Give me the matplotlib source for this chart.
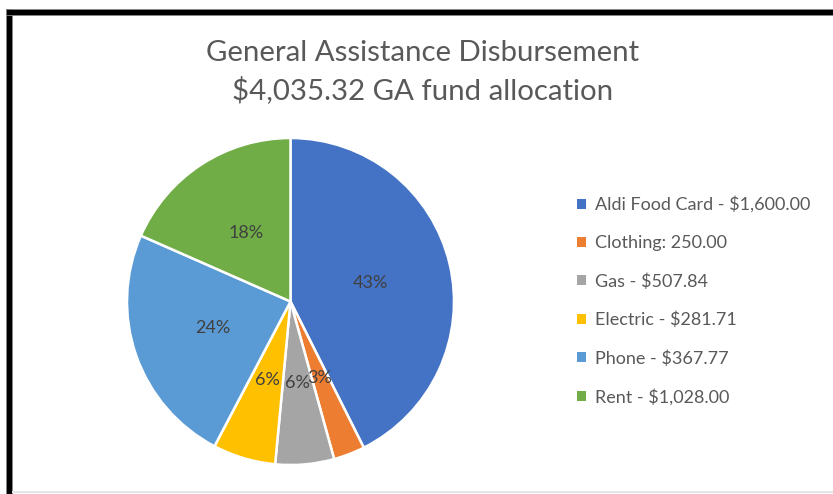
import matplotlib.pyplot as plt
from matplotlib.patches import Rectangle, Patch

title = 'General Assistance Disbursement\n$4,035.32 GA fund allocation'
categories = ['Aldi Food Card - $1,600.00', 'Clothing: 250.00', 'Gas - $507.84',
              'Electric - $281.71', 'Phone - $367.77', 'Rent - $1,028.00']
# slice shares as drawn in the reference pie (percent)
shares = [42.6, 3.1, 5.8, 6.2, 23.9, 18.4]
colors = ['#4472C4', '#ED7D31', '#A5A5A5', '#FFC000', '#5B9BD5', '#70AD47']

W, H = 833, 494
fig = plt.figure(figsize=(W / 100, H / 100), dpi=100)
plt.rcParams['font.family'] = ['Lato', 'DejaVu Sans']

# screenshot frame: black border top/left, faint grey line at the bottom
fig.add_artist(Rectangle((6 / W, 0), 6 / W, (H - 9) / H, transform=fig.transFigure,
                         facecolor='black', edgecolor='#888888', lw=0.6))
fig.add_artist(Rectangle((6 / W, (H - 15) / H), (W - 6) / W, 6 / H, transform=fig.transFigure,
                         facecolor='black', edgecolor='#888888', lw=0.6))
fig.add_artist(Rectangle((12 / W, 1 / H), (W - 12) / W, 2 / H, transform=fig.transFigure,
                         facecolor='#e6e6e6', edgecolor='none'))

# pie axes: centre (290.5, 301.5) px from top, radius 163.5 px
cx, cy, r = 290.5, 301.5, 163.5
ax = fig.add_axes([(cx - r) / W, (H - cy - r) / H, 2 * r / W, 2 * r / H])
wedges, texts, autotexts = ax.pie(shares, colors=colors, startangle=90, counterclock=False,
                                  autopct='%.0f%%', pctdistance=0.5,
                                  wedgeprops=dict(edgecolor='white', linewidth=1.8),
                                  textprops=dict(color='#404040', fontsize=13))
ax.set_xlim(-1, 1)
ax.set_ylim(-1, 1)
ax.set_aspect('equal')

fig.text(423 / W, 1 - 72 / H, title, ha='center', va='center', fontsize=21.2,
         color='#595959', linespacing=1.45)

handles = [Patch(facecolor=c, edgecolor='none') for c in colors]
fig.legend(handles, categories, loc='upper left', bbox_to_anchor=(561 / W, 1 - 180 / H),
           frameon=False, fontsize=13, labelcolor='#595959', handlelength=0.5,
           handleheight=0.5, handletextpad=0.5, labelspacing=1.22)

plt.savefig('out.png', dpi=100)
